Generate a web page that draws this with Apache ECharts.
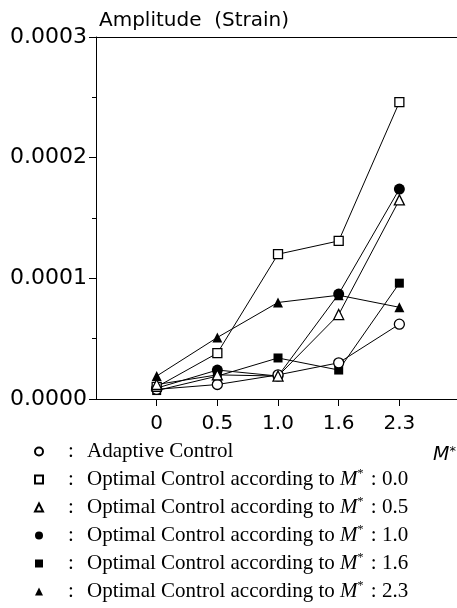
<!DOCTYPE html>
<html>
<head>
<meta charset="utf-8">
<script src="https://cdn.jsdelivr.net/npm/echarts@6/dist/echarts.min.js"></script>
<style>
  html, body { margin: 0; padding: 0; background: #fff; }
  #chart { width: 457px; height: 608px; }
</style>
</head>
<body>
<div id="chart"></div>
<script>
// M* values on the x axis
const xLabels = ["0", "0.5", "1.0", "1.6", "2.3"];
const yTicks = [0, 0.0001, 0.0002, 0.0003];

// amplitude (strain)
const adaptive = [0.000008, 0.000012, 0.000020, 0.000030, 0.000062];
const opt00 = [0.000010, 0.000038, 0.000120, 0.000131, 0.000246];
const opt05 = [0.000012, 0.000020, 0.000019, 0.000070, 0.000165];
const opt10 = [0.000009, 0.000024, 0.000019, 0.000087, 0.000174];
const opt16 = [0.000007, 0.000019, 0.000034, 0.000024, 0.000096];
const opt23 = [0.000019, 0.000051, 0.000080, 0.000086, 0.000076];

const seriesNames = ["Adaptive Control", "M* 0.0", "M* 0.5", "M* 1.0", "M* 1.6", "M* 2.3"];
const mValues = ["", "0.0", "0.5", "1.0", "1.6", "2.3"];

const chart = echarts.init(document.getElementById("chart"));

const mk = (name, data, symbol, filled, size) => ({
  name: name,
  type: "line",
  xAxisIndex: 0,
  data: data.map((v, i) => [i, v]),
  symbol: symbol,
  symbolSize: size,
  lineStyle: { color: "#000", width: 1 },
  itemStyle: {
    color: filled ? "#000" : "#fff",
    borderColor: "#000",
    borderWidth: filled ? 0 : 1.3,
  },
  emphasis: { disabled: true },
  z: filled ? 3 : 4,
});

const sansFont = "DejaVu Sans";
const serifFont = "Liberation Serif";

chart.setOption({
  animation: false,
  backgroundColor: "#fff",
  title: [
    {
      text: "Amplitude  (Strain)",
      left: 94,
      top: 6,
      textStyle: { fontFamily: sansFont, fontSize: 20, fontWeight: "normal", color: "#000" },
    },
    {
      text: "{m|M}{s|*}",
      left: 428,
      top: 440,
      textStyle: {
        fontWeight: "normal",
        rich: {
          m: { fontFamily: sansFont, fontStyle: "italic", fontWeight: "normal", fontSize: 19, color: "#000" },
          s: { fontFamily: sansFont, fontWeight: "normal", fontSize: 13, color: "#000", verticalAlign: "top", padding: [0, 0, 8, 0] },
        },
      },
    },
  ],
  grid: { left: 96, right: 0, top: 37, bottom: 209, containLabel: false },
  xAxis: [
    {
      type: "value",
      min: -1,
      max: 4.95,
      position: "bottom",
      axisLine: { show: true, onZero: false, lineStyle: { color: "#000", width: 1 } },
      axisTick: { show: true, length: 7, customValues: [0, 1, 2, 3, 4], lineStyle: { color: "#000" } },
      axisLabel: {
        customValues: [0, 1, 2, 3, 4],
        formatter: (v) => xLabels[Math.round(v)] || "",
        margin: 15,
        fontFamily: sansFont,
        fontSize: 20,
        color: "#000",
      },
      splitLine: { show: false },
    },
    {
      type: "value",
      min: -1,
      max: 4.95,
      position: "top",
      axisLine: { show: true, onZero: false, lineStyle: { color: "#000", width: 1 } },
      axisTick: { show: false },
      axisLabel: { show: false },
      splitLine: { show: false },
    },
  ],
  yAxis: {
    type: "value",
    min: yTicks[0],
    max: yTicks[yTicks.length - 1],
    interval: 0.0001,
    axisLine: { show: true, onZero: false, lineStyle: { color: "#000", width: 1 } },
    axisTick: { show: true, length: 7, lineStyle: { color: "#000" } },
    minorTick: { show: true, splitNumber: 2, length: 4, lineStyle: { color: "#000" } },
    axisLabel: {
      formatter: (v) => v.toFixed(4),
      margin: 9,
      fontFamily: sansFont,
      fontSize: 22,
      color: "#000",
    },
    splitLine: { show: false },
  },
  legend: {
    orient: "vertical",
    left: 34,
    top: 440,
    padding: 0,
    itemWidth: 8,
    itemHeight: 8,
    itemGap: 5,
    selectedMode: false,
    data: [
      { name: seriesNames[0], icon: "circle" },
      { name: seriesNames[1], icon: "rect" },
      { name: seriesNames[2], icon: "triangle" },
      { name: seriesNames[3], icon: "circle" },
      { name: seriesNames[4], icon: "rect" },
      { name: seriesNames[5], icon: "triangle" },
    ],
    formatter: (name) => {
      const i = seriesNames.indexOf(name);
      if (i === 0) return "{c|:}{t|Adaptive Control}";
      return "{c|:}{t|Optimal Control according to }{m|M}{s|*}{t| : " + mValues[i] + "}";
    },
    textStyle: {
      color: "#000",
      lineHeight: 23,
      rich: {
        c: { fontFamily: serifFont, fontSize: 21, color: "#000", width: 19, padding: [0, 0, 0, 20] },
        t: { fontFamily: serifFont, fontSize: 21, color: "#000" },
        m: { fontFamily: serifFont, fontStyle: "italic", fontSize: 21, color: "#000" },
        s: { fontFamily: serifFont, fontSize: 12, color: "#000", verticalAlign: "top", padding: [0, 2, 8, 0] },
      },
    },
  },
  series: [
    mk(seriesNames[0], adaptive, "circle", false, 10),
    mk(seriesNames[1], opt00, "rect", false, 9),
    mk(seriesNames[2], opt05, "triangle", false, 10),
    mk(seriesNames[3], opt10, "circle", true, 11),
    mk(seriesNames[4], opt16, "rect", true, 9),
    mk(seriesNames[5], opt23, "triangle", true, 10),
  ],
});
</script>
</body>
</html>
